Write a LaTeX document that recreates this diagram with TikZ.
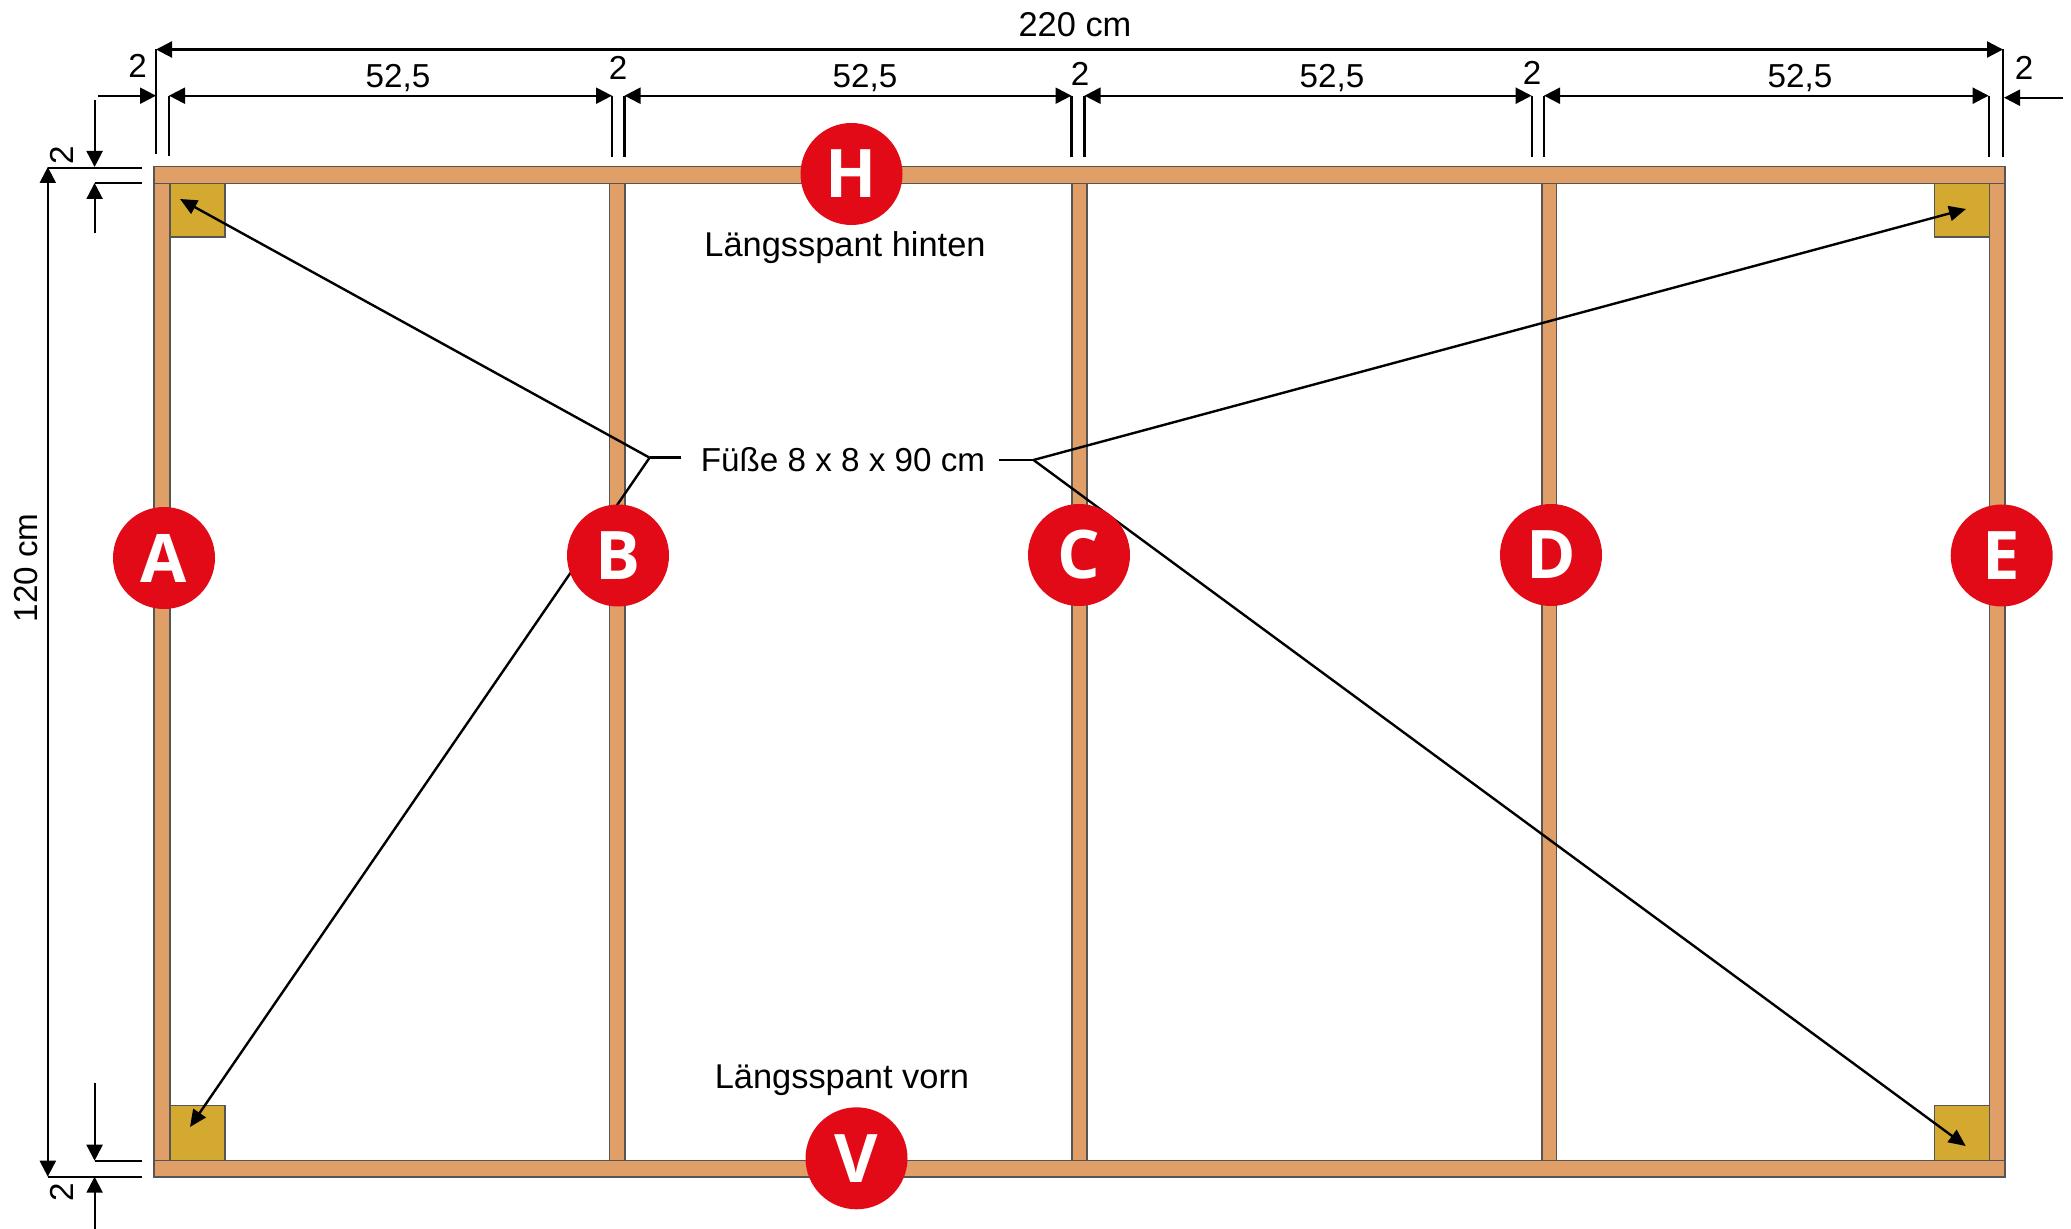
\documentclass[tikz,border=0pt]{standalone}
\usepackage{fontspec}
\setmainfont{Liberation Sans}
\newfontfamily\badgefont{Open Sans}
\usetikzlibrary{arrows.meta}
\definecolor{wood}{HTML}{E09F67}
\definecolor{foot}{HTML}{D4A92F}
\definecolor{badgered}{HTML}{E30A17}
\definecolor{edge}{HTML}{555555}
\tikzset{
  x=0.5pt,y=-0.5pt,
  beam/.style={fill=wood,draw=edge,line width=0.75pt},
  footbox/.style={fill=foot,draw=edge,line width=0.75pt},
  extline/.style={draw=black,line width=1.1pt},
  dimline/.style={draw=black,line width=1.1pt,{Triangle[length=8pt,width=8pt]}-{Triangle[length=8pt,width=8pt]}},
  oneway/.style={draw=black,line width=1.1pt,-{Triangle[length=8pt,width=8pt]}},
  leader/.style={draw=black,line width=1.2pt},
  pointer/.style={draw=black,line width=1.2pt,-{Triangle[length=8.5pt,width=7.5pt]}},
  lbl/.style={font=\fontsize{16.6}{18}\selectfont,inner sep=0pt,text=black},
  wide/.style={font=\fontsize{17.2}{19}\selectfont,inner sep=0pt,text=black},
  badge/.style={circle,fill=badgered,minimum size=51pt,inner sep=0pt,text=white,font=\badgefont\bfseries\fontsize{33.5}{36}\selectfont},
}
\begin{document}
\begin{tikzpicture}
\useasboundingbox (0,0) rectangle (2071,1229);
% posts
\foreach \xa/\xb in {154/170,609.5/625,1072/1087,1542/1556.5,1989.5/2005}{
  \draw[beam] (\xa,183.5) rectangle (\xb,1160.5);
}
% beams
\draw[beam] (154,166.5) rectangle (2005,183.5);
\draw[beam] (154,1160.5) rectangle (2005,1177);
% feet
\draw[footbox] (170,183.5) rectangle (225,237);
\draw[footbox] (1934.5,183.5) rectangle (1989.5,237);
\draw[footbox] (170,1105.5) rectangle (225,1160.5);
\draw[footbox] (1934.5,1105.5) rectangle (1989.5,1160.5);
% extension lines, top
\foreach \px/\ya/\yb in {156/49.5/154,169/95.7/156,612/95.7/157,624.5/95.7/157,1071.5/95.7/157,1084.5/95.7/157,1531.6/95.7/157,1544/95.7/157,1988.6/95.7/157,2003/49.5/157}{
  \draw[extline] (\px,\ya) -- (\px,\yb);
}
% extension lines, left
\draw[extline] (47.8,168) -- (142,168);
\draw[extline] (94.6,183) -- (142,183);
\draw[extline] (94.6,1160.7) -- (142,1160.7);
\draw[extline] (47.8,1176.7) -- (142,1176.7);
% named ends
\coordinate (tl) at (156,49.5);
\coordinate (tr) at (2003,49.5);
\coordinate (vt) at (47.8,167);
\coordinate (vb) at (47.8,1176.7);
% dimensions
\draw[dimline] (tl) -- (tr);
\draw[dimline] (vt) -- (vb);
\foreach \xa/\xb in {169/612,624.5/1071.5,1084.5/1531.6,1544/1988.6}{
  \draw[dimline] (\xa,95.7) -- (\xb,95.7);
}
\draw[oneway] (98,95.7) -- (156,95.7);
\draw[oneway] (2062.6,97.7) -- (2004,97.7);
\draw[oneway] (94.6,100) -- (94.6,167);
\draw[oneway] (94.6,232.7) -- (94.6,183);
\draw[oneway] (94.6,1082.7) -- (94.6,1160.7);
\draw[oneway] (94.6,1229) -- (94.6,1176.7);
% dimension labels
\node[wide] (t220) at (1075,24.5) {220 cm};
\node[lbl,rotate=90] (t120) at (26,568) {120 cm};
\node[lbl] (d1) at (398,78.5) {52,5};
\node[lbl] (d2) at (865,78.5) {52,5};
\node[lbl] (d3) at (1332,78.5) {52,5};
\node[lbl] (d4) at (1800,78.5) {52,5};
\node[lbl] (g0) at (137.5,66) {2};
\node[lbl] (g1) at (618,68) {2};
\node[lbl] (g2) at (1080,74) {2};
\node[lbl] (g3) at (1532,73) {2};
\node[lbl] (g4) at (2024,68) {2};
\node[lbl,rotate=90] (g5) at (61.5,155) {2};
\node[lbl,rotate=90] (g6) at (61.5,1192.7) {2};
% labels
\node[wide] (hinten) at (845,248) {Längsspant hinten};
\node[wide] (vorn) at (842,1080.5) {Längsspant vorn};
\node[lbl] (fuesse) at (843,460) {Füße 8 x 8 x 90 cm};
% leaders
\coordinate (jl) at (649.6,457.7);
\coordinate (jr) at (1033.5,460);
\coordinate (jla) at (681.4,457.7);
\coordinate (jra) at (999,460);
\coordinate (ftl) at (180,199);
\coordinate (ftr) at (1966,209);
\coordinate (fbl) at (190,1127);
\coordinate (fbr) at (1965.7,1146);
\draw[leader] (jla) -- (jl);
\draw[leader] (jra) -- (jr);
\draw[pointer] (jl) -- (ftl);
\draw[pointer] (jl) -- (fbl);
\draw[pointer] (jr) -- (ftr);
\draw[pointer] (jr) -- (fbr);
% badges
\node[badge] (A) at (164,558) {A};
\node[badge] (B) at (618,555.5) {B};
\node[badge] (C) at (1079,555) {C};
\node[badge] (D) at (1551,555) {D};
\node[badge] (E) at (2001.7,555.5) {E};
\node[badge] (H) at (851.5,174) {H};
\node[badge] (V) at (856.5,1158.3) {V};
\end{tikzpicture}
\end{document}
